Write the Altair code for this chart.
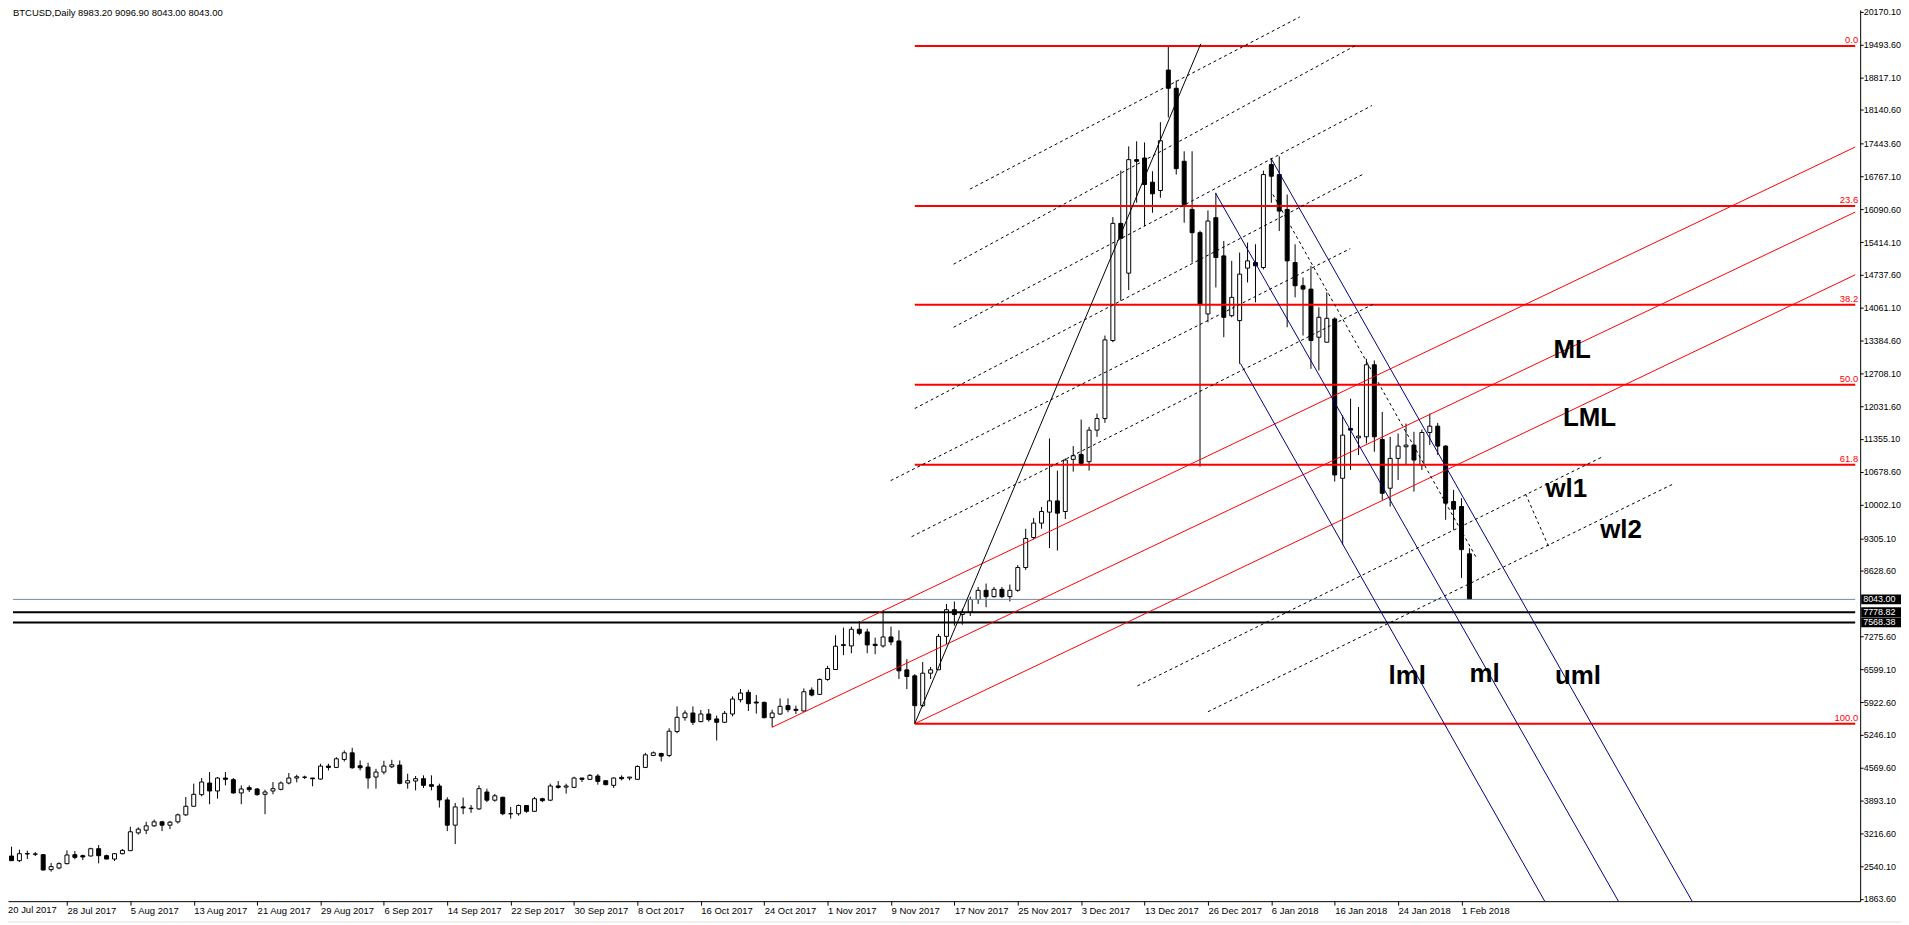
import altair as alt
import pandas as pd

# ---------------- data ----------------
opens = [2260, 2748, 2652, 2790, 2790, 2775, 2467, 2501, 2590, 2775,
         2755, 2748, 2899, 2755, 2686, 2796, 2858, 3225, 3280, 3370,
         3453, 3384, 3453, 3597, 3774, 4014, 4254, 4090, 4357, 4323,
         4049, 4158, 4131, 4021, 4090, 4124, 4254, 4357, 4370, 4357,
         4336, 4603, 4576, 4740, 4877, 4610, 4583, 4377, 4480, 4589,
         4624, 4254, 4295, 4343, 4220, 4192, 3905, 3384, 3761, 3725,
         3720, 4069, 3900, 3960, 3620, 3620, 3790, 3670, 3930, 3900,
         4193, 4170, 4165, 4357, 4330, 4398, 4302, 4206, 4370, 4357,
         4330, 4576, 4823, 4864, 4823, 5316, 5603, 5699, 5521, 5678,
         5576, 5507, 5678, 5973, 6124, 5925, 5918, 5603, 5678, 5850,
         5774, 5740, 6172, 6083, 6391, 6596, 7090, 7083, 7426, 7371,
         7117, 7083, 7268, 7185, 6589, 6466, 5850, 6520, 6590, 7280,
         7830, 7730, 7780, 8040, 8230, 8100, 8250, 8100, 8230, 8700,
         9320, 9617, 9843, 10075, 9856, 10932, 11034, 10884, 11535, 11774,
         13383, 15801, 14774, 17116, 17150, 16651, 16479, 18965, 18589, 17082,
         16089, 15609, 13932, 15918, 15130, 13897, 13795, 14877, 14993, 14890,
         17014, 16808, 16089, 14993, 14514, 14445, 13452, 13349, 13829, 10541,
         11569, 11377, 11398, 12884, 11343, 10336, 10952, 11192, 11226, 10815,
         11487, 11617, 11206, 10062, 9959, 8983.2]
highs = [2940, 2940, 2878, 2858, 2830, 2789, 2604, 2618, 2864, 2851,
         2776, 2919, 2974, 2776, 2810, 2892, 3351, 3340, 3455, 3500,
         3473, 3473, 3624, 3966, 4240, 4357, 4480, 4377, 4480, 4357,
         4206, 4206, 4151, 4117, 4275, 4288, 4460, 4425, 4405, 4357,
         4651, 4651, 4788, 4925, 4980, 4720, 4672, 4548, 4713, 4733,
         4720, 4446, 4398, 4412, 4412, 4240, 3960, 3843, 3953, 3800,
         4206, 4138, 4030, 3970, 3760, 3810, 3800, 3967, 3950, 4241,
         4295, 4241, 4384, 4357, 4439, 4439, 4302, 4370, 4412, 4377,
         4617, 4877, 4905, 4877, 5384, 5836, 5754, 5836, 5761, 5781,
         5644, 5740, 6042, 6193, 6179, 6069, 5932, 5767, 6000, 6000,
         5850, 6206, 6227, 6412, 6672, 7302, 7460, 7480, 7596, 7439,
         7254, 7815, 7480, 7405, 6809, 6500, 6750, 6650, 7330, 7950,
         8000, 7850, 8100, 8300, 8370, 8300, 8300, 8350, 8750, 9500,
         9720, 9950, 11363, 10699, 10952, 11206, 11753, 11603, 11877, 13486,
         15931, 16890, 17390, 17493, 17472, 16876, 17890, 19445, 18750, 17288,
         17288, 15650, 16068, 16431, 15438, 15027, 15199, 15404, 15370, 16890,
         17151, 17185, 16397, 15370, 14685, 14925, 14068, 14377, 13863, 11843,
         12185, 12014, 13007, 12973, 11911, 11397, 11466, 11671, 11500, 11548,
         11877, 11685, 11226, 10302, 10131, 9096.9]
lows = [2250, 2645, 2625, 2686, 2748, 2447, 2426, 2474, 2577, 2680,
        2666, 2741, 2597, 2680, 2645, 2782, 2858, 3190, 3200, 3350,
        3261, 3302, 3418, 3576, 3774, 3980, 3816, 3932, 4206, 4035,
        3816, 4069, 3993, 3610, 4021, 4103, 4227, 4268, 4336, 4186,
        4323, 4514, 4562, 4699, 4549, 4514, 4138, 4138, 4432, 4562,
        4227, 4138, 4103, 4151, 4103, 3747, 3261, 2994, 3610, 3640,
        3700, 3860, 3870, 3590, 3520, 3580, 3640, 3660, 3860, 3880,
        4138, 4035, 4150, 4275, 4320, 4220, 4206, 4151, 4309, 4309,
        4330, 4562, 4809, 4699, 4788, 5281, 5541, 5452, 5507, 5521,
        5131, 5494, 5630, 5918, 5740, 5686, 5589, 5405, 5658, 5713,
        5678, 5726, 6042, 6083, 6364, 6590, 6891, 6932, 7302, 6932,
        6911, 7048, 7096, 6398, 6192, 5479, 5820, 6400, 6590, 7120,
        7500, 7520, 7700, 7950, 7880, 8080, 8070, 8000, 8200, 8650,
        9280, 9500, 9100, 9050, 9700, 10679, 10800, 10699, 11397, 11685,
        13349, 14205, 14424, 16226, 15746, 16020, 16329, 17986, 16808, 15815,
        14993, 10781, 13760, 14479, 13452, 13863, 12904, 14582, 14171, 14850,
        16226, 15644, 13658, 14274, 13486, 12801, 12767, 13349, 10473, 9171,
        10713, 11021, 11261, 11089, 10096, 9959, 10507, 10815, 10267, 10712,
        11226, 11021, 9685, 9480, 8486, 8043.0]
closes = [2850, 2652, 2796, 2800, 2785, 2460, 2529, 2590, 2769, 2720,
          2728, 2899, 2755, 2686, 2796, 2864, 3248, 3302, 3370, 3453,
          3384, 3446, 3597, 3774, 4021, 4275, 4090, 4357, 4330, 4049,
          4131, 4117, 4014, 4069, 4138, 4254, 4357, 4384, 4377, 4343,
          4603, 4576, 4754, 4877, 4569, 4569, 4357, 4480, 4603, 4630,
          4247, 4302, 4343, 4206, 4186, 3905, 3384, 3761, 3740, 3735,
          4138, 3900, 3990, 3620, 3620, 3790, 3670, 3930, 3890, 4193,
          4165, 4193, 4357, 4330, 4412, 4288, 4220, 4357, 4343, 4377,
          4596, 4836, 4877, 4809, 5323, 5610, 5699, 5507, 5678, 5562,
          5507, 5692, 5987, 6110, 5891, 5905, 5603, 5699, 5836, 5767,
          5754, 6137, 6069, 6391, 6617, 7076, 7110, 7426, 7343, 7103,
          7090, 7268, 7165, 6569, 6452, 5850, 6520, 6590, 7280, 7830,
          7730, 7780, 8040, 8230, 8100, 8250, 8100, 8230, 8700, 9300,
          9617, 9856, 10075, 9822, 10918, 11007, 10849, 11535, 11774, 13397,
          15801, 15493, 17116, 17082, 16603, 16411, 17507, 18589, 16931, 16192,
          15609, 14137, 15849, 15096, 13863, 14274, 14753, 15027, 14925, 16808,
          16774, 16055, 15027, 14514, 14445, 13384, 13863, 13842, 10610, 11432,
          11535, 11411, 12884, 11398, 10233, 10952, 11206, 11226, 10918, 11487,
          11617, 11206, 10028, 9904, 9069, 8043.0]

date_labels = ["20 Jul 2017", "28 Jul 2017", "5 Aug 2017", "13 Aug 2017", "21 Aug 2017",
               "29 Aug 2017", "6 Sep 2017", "14 Sep 2017", "22 Sep 2017", "30 Sep 2017",
               "8 Oct 2017", "16 Oct 2017", "24 Oct 2017", "1 Nov 2017", "9 Nov 2017",
               "17 Nov 2017", "25 Nov 2017", "3 Dec 2017", "13 Dec 2017", "26 Dec 2017",
               "6 Jan 2018", "16 Jan 2018", "24 Jan 2018", "1 Feb 2018"]
label_step = 8

price_ticks = [20170.10, 19493.60, 18817.10, 18140.60, 17443.60, 16767.10, 16090.60,
               15414.10, 14737.60, 14061.10, 13384.60, 12708.10, 12031.60, 11355.10,
               10678.60, 10002.10, 9305.10, 8628.60, 7275.60, 6599.10, 5922.60,
               5246.10, 4569.60, 3893.10, 3216.60, 2540.10, 1863.60]

marked_prices = [8043.00, 7778.82, 7568.38]
marked_labels = ["8043.00", "7778.82", "7568.38"]

header = "BTCUSD,Daily  8983.20 9096.90 8043.00 8043.00"

# Fibonacci retracement
fib_high = 19461
fib_low = 5479
fib_start_bar = 115
fib_levels = [0.0, 23.6, 38.2, 50.0, 61.8, 100.0]
fib_names = ["0.0", "23.6", "38.2", "50.0", "61.8", "100.0"]

# scale extents (bar index / price)
x_min, x_max = 1.1875, 233.6875
y_min, y_max = 1816.4, 20205.0

# red pitchfork (start bar, start price, end bar, end price)
red_x1 = [97, 108.3, 115]
red_y1 = [5405, 7596, 5479]
red_x2 = [x_max, x_max, x_max]
red_y2 = [16034, 17376, 14740]

# blue pitchfork
blue_x1 = [152.96, 159.96, 156.1]
blue_y1 = [16425, 17144, 12911]
blue_x2 = [203.8, 213.1, 194.5]
blue_y2 = [y_min, y_min, y_min]

# black solid trend line
trend_x1, trend_y1, trend_x2, trend_y2 = [115], [5479], [151.1], [19506]

# black dotted lines
dot_x1 = [121.96, 119.9, 119.9, 115.0, 111.96, 114.6, 143.1, 152.0, 192.1, 160.2]
dot_y1 = [16507, 14959, 13657, 11981, 10493, 9336, 6259, 5725, 10215, 16398]
dot_x2 = [163.6, 170.5, 172.7, 171.5, 169.96, 172.9, 201.8, 210.8, 195.0, 185.8]
dot_y2 = [20061, 19460, 18233, 16809, 15280, 14138, 10985, 10431, 9133, 8925]

# text annotations (left x in bars, baseline price)
note_text = ["ML", "LML", "wl1", "wl2", "lml", "ml", "uml"]
note_x = [195.6, 196.8, 194.6, 201.5, 174.8, 185.0, 195.8]
note_y = [13014, 11617, 10158, 9316, 6296, 6337, 6296]

# ---------------- frames ----------------
n = len(opens)
candles = pd.DataFrame({
    "i": list(range(n)), "o": opens, "h": highs, "l": lows, "c": closes,
    "dir": ["up" if c >= o else "down" for o, c in zip(opens, closes)],
})

W, H = 1860, 895
FONT = "Liberation Sans"
FS = 9.5
FS_Y = 9
xs = alt.Scale(domain=[x_min, x_max], nice=False, zero=False)
ys = alt.Scale(domain=[y_min, y_max], nice=False, zero=False)

label_expr = "[" + ",".join("'" + d + "'" for d in date_labels) + "][round(datum.value/" + str(label_step) + ")]"

x_axis = alt.Axis(values=list(range(label_step, n, label_step)), labelExpr=label_expr,
                  orient="bottom", grid=False, title=None, domain=True, domainColor="black",
                  domainWidth=1, ticks=True, tickColor="black", tickSize=4, tickWidth=1,
                  labelAlign="left", labelBaseline="middle", labelPadding=5,
                  labelFont=FONT, labelFontSize=FS, labelColor="black",
                  labelOverlap=False, labelFlush=False)
y_axis = alt.Axis(values=price_ticks, format=".2f", orient="right", grid=False, title=None,
                  domain=True, domainColor="black", domainWidth=1, ticks=True,
                  tickColor="black", tickSize=3, tickWidth=1, labelAlign="left",
                  labelBaseline="middle", labelPadding=0, labelFont=FONT,
                  labelFontSize=FS_Y, labelColor="black", labelOverlap=False,
                  labelFlush=False)


def X(f):
    return alt.X(f, type="quantitative", scale=xs, axis=x_axis)


def Y(f):
    return alt.Y(f, type="quantitative", scale=ys, axis=y_axis)


def X2(f):
    return alt.X2(f)


def Y2(f):
    return alt.Y2(f)


wicks = alt.Chart(candles).mark_rule(color="black", strokeWidth=1).encode(
    x=X("i"), y=Y("l"), y2=Y2("h"))
bodies = alt.Chart(candles).mark_bar(size=4, stroke="black", strokeWidth=1).encode(
    x=X("i"), y=Y("o"), y2=Y2("c"),
    fill=alt.Fill("dir:N", scale=alt.Scale(domain=["up", "down"], range=["white", "black"]),
                  legend=None),
)

# horizontal price lines
hl = pd.DataFrame({"p": marked_prices, "xa": [x_min] * 3, "xb": [x_max] * 3})
gray_line = alt.Chart(hl.iloc[[0]]).mark_rule(color="#778899", strokeWidth=1).encode(
    x=X("xa"), x2=X2("xb"), y=Y("p"))
black_lines = alt.Chart(hl.iloc[1:]).mark_rule(color="black", strokeWidth=2).encode(
    x=X("xa"), x2=X2("xb"), y=Y("p"))

# fibonacci
fib = pd.DataFrame({
    "lvl": fib_levels, "name": fib_names,
    "p": [fib_high - (fib_high - fib_low) * v / 100.0 for v in fib_levels],
    "xa": [fib_start_bar] * len(fib_levels), "xb": [x_max] * len(fib_levels),
})
fib_lines = alt.Chart(fib).mark_rule(color="#ff0000", strokeWidth=2).encode(
    x=X("xa"), x2=X2("xb"), y=Y("p"))
fib_text = alt.Chart(fib).mark_text(align="right", baseline="alphabetic", dy=-3,
                                    color="#ff0000", font=FONT, fontSize=FS).encode(
    x=alt.value(W - 2), y=Y("p"), text="name:N")


def seg_df(x1, y1, x2, y2):
    return pd.DataFrame({"x1": x1, "y1": y1, "x2": x2, "y2": y2})


red = alt.Chart(seg_df(red_x1, red_y1, red_x2, red_y2)).mark_rule(
    color="#ff0000", strokeWidth=1).encode(x=X("x1"), y=Y("y1"), x2=X2("x2"), y2=Y2("y2"))
blue = alt.Chart(seg_df(blue_x1, blue_y1, blue_x2, blue_y2)).mark_rule(
    color="#000080", strokeWidth=1).encode(x=X("x1"), y=Y("y1"), x2=X2("x2"), y2=Y2("y2"))
trend = alt.Chart(seg_df(trend_x1, trend_y1, trend_x2, trend_y2)).mark_rule(
    color="black", strokeWidth=1).encode(x=X("x1"), y=Y("y1"), x2=X2("x2"), y2=Y2("y2"))
dots = alt.Chart(seg_df(dot_x1, dot_y1, dot_x2, dot_y2)).mark_rule(
    color="black", strokeWidth=1, strokeDash=[3, 3]).encode(
    x=X("x1"), y=Y("y1"), x2=X2("x2"), y2=Y2("y2"))

notes = alt.Chart(pd.DataFrame({"t": note_text, "x": note_x, "y": note_y})).mark_text(
    align="left", baseline="alphabetic", font=FONT, fontWeight="bold", fontSize=26,
    color="black").encode(x=X("x"), y=Y("y"), text="t:N")

# price boxes on the right axis
boxes_df = pd.DataFrame({"p": marked_prices, "t": marked_labels})
boxes = alt.Chart(boxes_df).mark_rule(color="black", strokeWidth=10).encode(
    x=alt.value(W + 1), x2=alt.value(W + 41), y=Y("p"))
box_text = alt.Chart(boxes_df).mark_text(align="left", baseline="middle", color="white",
                                         font=FONT, fontSize=FS_Y).encode(
    x=alt.value(W + 3), y=Y("p"), text="t:N")

head = alt.Chart(pd.DataFrame({"t": [header]})).mark_text(
    align="left", baseline="middle", font=FONT, fontSize=FS, color="black").encode(
    x=alt.value(5), y=alt.value(3), text="t:N")

first_label = alt.Chart(pd.DataFrame({"t": [date_labels[0]]})).mark_text(
    align="left", baseline="middle", font=FONT, fontSize=FS, color="black").encode(
    x=alt.value(0), y=alt.value(H + 9), text="t:N")

band = alt.Chart(pd.DataFrame({"t": [0]})).mark_rect(color="#f0f0f0").encode(
    x=alt.value(-8), x2=alt.value(W + 41), y=alt.value(H + 20), y2=alt.value(H + 22))

chart = alt.layer(
    band, wicks, bodies, gray_line, black_lines, fib_lines, red, blue, trend, dots,
    fib_text, notes, boxes, box_text, head, first_label,
).properties(
    width=W, height=H,
    autosize=alt.AutoSizeParams(type="none"),
    padding={"left": 0, "top": 0, "right": 41, "bottom": 22},
    background="white",
).configure_view(strokeWidth=0)

chart.save("out.html", embed_options={"renderer": "svg", "actions": False})
